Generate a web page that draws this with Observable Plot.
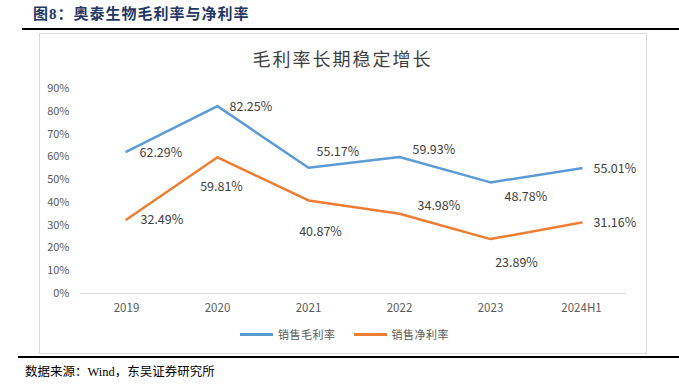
<!DOCTYPE html>
<html>
<head>
<meta charset="utf-8">
<script src="https://cdn.jsdelivr.net/npm/d3@7"></script>
<script src="https://cdn.jsdelivr.net/npm/@observablehq/plot@0.6"></script>
<style>
  html, body { margin: 0; padding: 0; background: #fff; }
  #page { position: relative; width: 679px; height: 391px; overflow: hidden; background: #fff; }
  .abs { position: absolute; }
  #header { left: 33px; top: 4px; font-family: "Liberation Serif", "Noto Sans CJK SC", serif; font-weight: bold; font-size: 15px; letter-spacing: 1px; color: #1f3864; white-space: nowrap; line-height: 20px; }
  #hline { left: 22px; top: 28px; width: 657px; height: 2px; background: #000; }
  #box { left: 39px; top: 33px; width: 606px; height: 319px; border: 1px solid #d9d9d9; background: #fff; }
  #ctitle { left: 0; width: 679px; top: 46px; text-align: center; padding-left: 6px; box-sizing: border-box; font-family: "Noto Sans CJK SC", sans-serif; font-size: 18px; letter-spacing: 2px; color: #404040; line-height: 24px; }
  #chart { left: 0; top: 0; }
  #legend { left: 240px; top: 325px; font-family: "Noto Sans CJK SC", sans-serif; font-size: 11px; color: #595959; white-space: nowrap; line-height: 18px; display: flex; align-items: center; }
  .sw { display: inline-block; width: 33px; height: 3px; margin-right: 5px; }
  #bline { left: 18px; top: 356px; width: 661px; height: 2px; background: #000; }
  #caption { left: 25px; top: 363px; font-family: "Liberation Serif", "Noto Sans CJK SC", serif; font-size: 12.5px; color: #000; white-space: nowrap; line-height: 18px; }
</style>
</head>
<body>
<div id="page">
  <div id="header" class="abs">图8：奥泰生物毛利率与净利率</div>
  <div id="hline" class="abs"></div>
  <div id="box" class="abs"></div>
  <div id="ctitle" class="abs">毛利率长期稳定增长</div>
  <div id="chart" class="abs"></div>
  <div id="legend" class="abs"></div>
  <div id="bline" class="abs"></div>
  <div id="caption" class="abs">数据来源：Wind，东吴证券研究所</div>
</div>
<script>
const categories = ["2019", "2020", "2021", "2022", "2023", "2024H1"];
const grossMargin = [62.29, 82.25, 55.17, 59.93, 48.78, 55.01];
const netMargin = [32.49, 59.81, 40.87, 34.98, 23.89, 31.16];
const yTicks = [0, 10, 20, 30, 40, 50, 60, 70, 80, 90];
const seriesNames = ["销售毛利率", "销售净利率"];
const seriesColors = ["#5b9bd5", "#ed7d31"];

// label placement (offsets in px, anchor) for each data label
const grossLabelPlacement = [[13, 1, "start"], [12, 1, "start"], [8, -16, "start"], [13, -7, "start"], [14, 15, "start"], [12, 1, "start"]];
const netLabelPlacement = [[14, 1, "start"], [4, 30, "middle"], [12, 32, "middle"], [18, -8, "start"], [26, 24, "middle"], [12, 0, "start"]];

const gross = categories.map((c, i) => ({cat: c, v: grossMargin[i]}));
const net = categories.map((c, i) => ({cat: c, v: netMargin[i]}));

const fmt = v => v.toFixed(2) + "%";

function labelMarks(data, placement) {
  return data.map((d, i) => Plot.text([d], {
    x: "cat", y: "v", text: d => fmt(d.v),
    dx: placement[i][0], dy: placement[i][1], textAnchor: placement[i][2],
    fill: "#404040", fontSize: 12.5
  }));
}

const chart = Plot.plot({
  width: 679,
  height: 391,
  marginLeft: 80,
  marginRight: 53,
  marginTop: 88,
  marginBottom: 98,
  style: {fontFamily: "'Noto Sans CJK SC', sans-serif", fontSize: "11px", color: "#595959", background: "transparent"},
  x: {type: "point", domain: categories, padding: 0.5, label: null},
  y: {domain: [0, 90], label: null},
  marks: [
    Plot.ruleY([0], {stroke: "#d9d9d9", strokeWidth: 1}),
    Plot.axisY({ticks: yTicks, tickFormat: d => d + "%", tickSize: 0, tickPadding: 11, fontSize: 11, label: null}),
    Plot.axisX({tickSize: 0, tickPadding: 10, fontSize: 11.5, label: null}),
    Plot.line(gross, {x: "cat", y: "v", stroke: seriesColors[0], strokeWidth: 2.5}),
    Plot.line(net, {x: "cat", y: "v", stroke: seriesColors[1], strokeWidth: 2.5}),
    ...labelMarks(gross, grossLabelPlacement),
    ...labelMarks(net, netLabelPlacement)
  ]
});
document.getElementById("chart").appendChild(chart);

const legend = document.getElementById("legend");
seriesNames.forEach((name, i) => {
  const item = document.createElement("span");
  item.style.display = "inline-flex";
  item.style.alignItems = "center";
  item.style.marginRight = i === 0 ? "18px" : "0";
  const sw = document.createElement("span");
  sw.className = "sw";
  sw.style.background = seriesColors[i];
  const t = document.createElement("span");
  t.textContent = name;
  t.style.letterSpacing = "0.5px";
  item.appendChild(sw);
  item.appendChild(t);
  legend.appendChild(item);
});
</script>
</body>
</html>
